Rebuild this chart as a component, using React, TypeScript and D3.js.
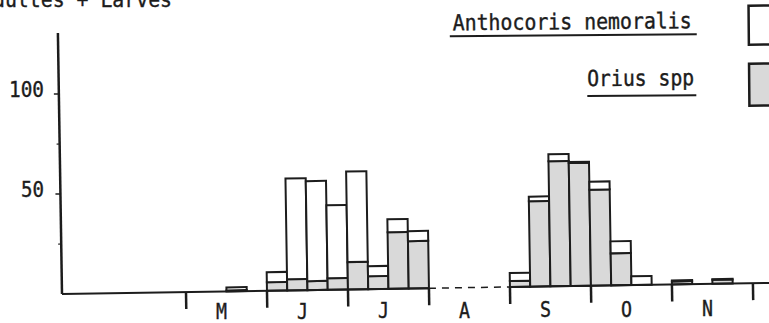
import React from 'react';
import * as d3 from 'd3';

// week index (0 = first week of June), 4 weeks per month
const weeks = [-2, -1, 0, 1, 2, 3, 4, 5, 6, 7, 8, 9, 10, 11, 12, 13, 14, 15, 16, 17, 18, 19, 20, 21, 22, 23];
const anthocoris: (number | null)[] = [1.5, 0, 5, 50.4, 50, 36.5, 45.3, 5, 6.5, 5, null, null, null, null, 4, 2.3, 3.5, 0.5, 4, 6, 4.4, 0, 0.5, 0, 0.3, 0];
const orius: (number | null)[] = [0.5, 0, 4.3, 5.6, 4.5, 5.8, 13.7, 6.5, 28.3, 23.7, null, null, null, null, 3, 42.7, 62.5, 61.5, 48, 16, 0, 0, 1.5, 0, 2, 0];
const months = ['M', 'J', 'J', 'A', 'S', 'O', 'N'];
const monthStart = [-4, 0, 4, 8, 12, 16, 20];
const monthEnds = [24];
const gapWeeks = [8, 12]; // August: no sampling (dashed)
const yMajor = [50, 100];
const yMinor = [25, 75];
const title = 'Adultes + Larves';
const legendNames = ['Anthocoris nemoralis', 'Orius spp'];

const W = 769;
const H = 323;
const INK = '#1c1c1c';
const GREY = '#d9d9d9';
const FONT = '"DejaVu Sans Mono", monospace';
const ADV = 12; // character advance of the typewriter face

function T(props: { x: number; y: number; s: string; anchor?: string }) {
  return (
    <text
      x={props.x}
      y={props.y}
      textAnchor={props.anchor || 'start'}
      textLength={props.s.length * ADV - 1}
      lengthAdjust="spacingAndGlyphs"
    >
      {props.s}
    </text>
  );
}

export default function App() {
  const x = d3.scaleLinear().domain([-4, 24]).range([186, 753]);
  const y = d3.scaleLinear().domain([0, 100]).range([294, 94]);
  const x0 = 62;
  const boundaries = [...monthStart, ...monthEnds];

  return (
    <svg width={W} height={H} style={{ position: 'absolute', left: 0, top: 0, background: '#fff' }}>
      <rect width={W} height={H} fill="#fff" />
      <g transform={`rotate(-0.9, ${x0}, ${y(0)})`} stroke={INK} strokeWidth={2} fill="none">
        {/* y axis */}
        <line x1={x0} y1={y(0)} x2={x0} y2={y(130.5)} strokeWidth={2.5} />
        {yMajor.map((v) => (
          <line key={'M' + v} x1={x0 - 5} x2={x0} y1={y(v)} y2={y(v)} strokeWidth={1.5} />
        ))}
        {yMinor.map((v) => (
          <line key={'m' + v} x1={x0 - 3} x2={x0} y1={y(v)} y2={y(v)} strokeWidth={1.2} />
        ))}
        {/* bars */}
        {weeks.map((w, i) => {
          const o = orius[i];
          const a = anthocoris[i];
          if (o == null || a == null) return null;
          const xa = x(w);
          const xb = x(w + 1);
          const parts = [] as React.ReactNode[];
          if (o > 0) {
            parts.push(
              <rect key={'o' + w} x={xa} y={y(o)} width={xb - xa} height={y(0) - y(o)} fill={GREY} stroke={INK} strokeWidth={2} />
            );
          }
          if (a > 0) {
            parts.push(
              <rect key={'a' + w} x={xa} y={y(o + a)} width={xb - xa} height={y(o) - y(o + a)} fill="#fff" stroke={INK} strokeWidth={2} />
            );
          }
          return <g key={w}>{parts}</g>;
        })}
        {/* baseline */}
        <line x1={x0} x2={x(gapWeeks[0])} y1={y(0)} y2={y(0)} strokeWidth={2} />
        <line x1={x(gapWeeks[0])} x2={x(gapWeeks[1])} y1={y(0)} y2={y(0)} strokeWidth={1.5} strokeDasharray="7 6" />
        <line x1={x(gapWeeks[1])} x2={W + 20} y1={y(0)} y2={y(0)} strokeWidth={2} />
        {/* month ticks */}
        {boundaries.map((b) => (
          <line key={'t' + b} x1={x(b)} x2={x(b)} y1={y(0)} y2={y(0) + 17} strokeWidth={2.5} />
        ))}
      </g>

      <g fontFamily={FONT} fontSize={22} fill={INK} stroke={INK} strokeWidth={0.4}>
        {/* month labels */}
        {months.map((m, i) => (
          <T key={i} x={x(monthStart[i] + 2) - 5} y={319 - i * 0.5} s={m} anchor="middle" />
        ))}
        {/* y labels */}
        {yMajor.map((v) => (
          <T key={v} x={44} y={y(v) + 3} s={String(v)} anchor="end" />
        ))}
        {/* title */}
        <T x={-19} y={7} s={title} />
      </g>

      {/* legend */}
      <g transform="rotate(-0.5, 600, 60)" fontFamily={FONT} fontSize={22} fill={INK}>
        <g stroke={INK} strokeWidth={0.4}>
          <T x={453} y={29} s={legendNames[0]} />
          <T x={587} y={86} s={legendNames[1]} />
        </g>
        <line x1={450} x2={697} y1={35} y2={35} stroke={INK} strokeWidth={2} />
        <rect x={749} y={7} width={30} height={39} fill="#fff" stroke={INK} strokeWidth={2.5} />
        <line x1={587} x2={696} y1={96} y2={96} stroke={INK} strokeWidth={2} />
        <rect x={749} y={65} width={30} height={42} fill={GREY} stroke={INK} strokeWidth={2.5} />
      </g>
    </svg>
  );
}
